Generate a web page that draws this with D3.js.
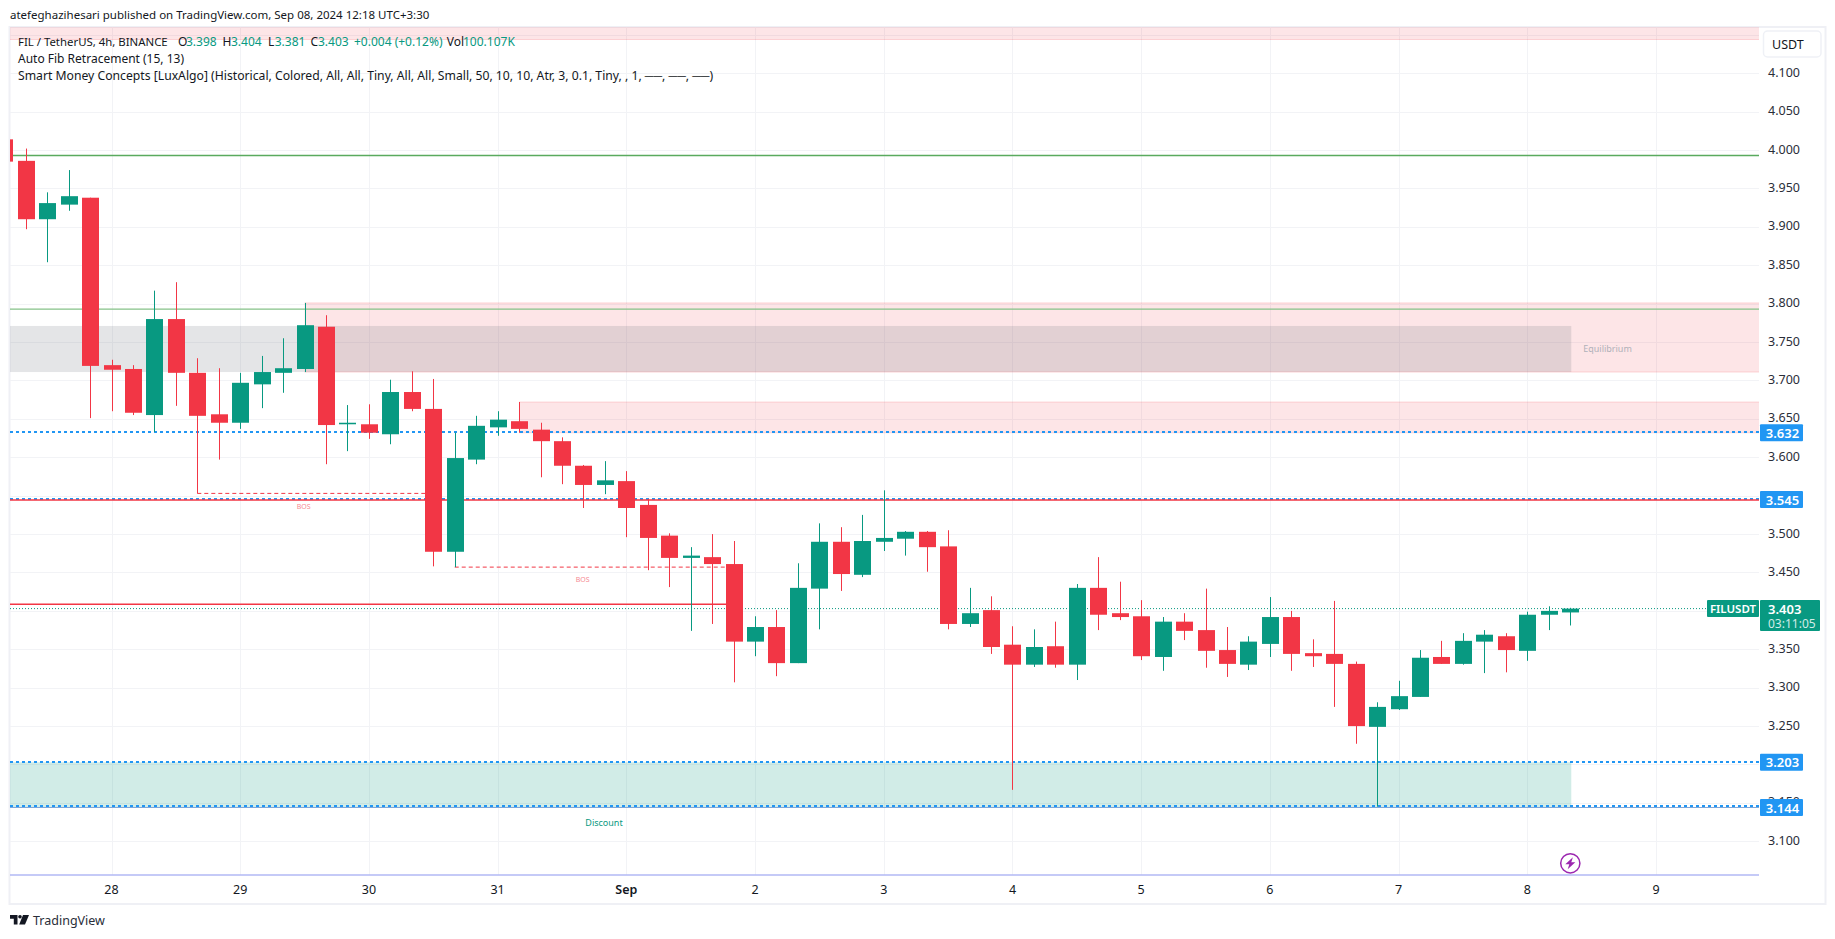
<!DOCTYPE html>
<html>
<head>
<meta charset="utf-8">
<script src="https://cdn.jsdelivr.net/npm/d3@7/dist/d3.min.js"></script>
<style>
  html, body { margin: 0; padding: 0; background: #fff; overflow: hidden; }
  text { font-family: "Noto Sans", "Open Sans", sans-serif; white-space: pre; }
</style>
</head>
<body>
<svg class="Chart"></svg>
<script>
/* candles, one every 4h, first one is cut by the left edge */
const opens = [4.014,3.986,3.910,3.929,3.938,3.720,3.715,3.655,3.780,3.710,3.656,3.645,3.695,3.710,3.715,3.770,3.643,3.643,3.630,3.685,3.663,3.477,3.597,3.639,3.647,3.636,3.621,3.589,3.564,3.569,3.538,3.498,3.469,3.470,3.461,3.360,3.379,3.332,3.429,3.490,3.447,3.490,3.494,3.503,3.484,3.383,3.401,3.356,3.330,3.354,3.330,3.430,3.397,3.393,3.340,3.386,3.375,3.349,3.330,3.357,3.392,3.345,3.344,3.331,3.249,3.272,3.288,3.340,3.331,3.360,3.367,3.348,3.395,3.398];
const highs = [4.014,4.002,3.945,3.974,3.938,3.727,3.720,3.817,3.828,3.729,3.716,3.710,3.732,3.755,3.801,3.785,3.668,3.669,3.701,3.712,3.702,3.632,3.654,3.660,3.672,3.645,3.626,3.590,3.595,3.582,3.546,3.501,3.483,3.500,3.491,3.393,3.401,3.462,3.514,3.509,3.525,3.557,3.504,3.504,3.505,3.430,3.419,3.380,3.376,3.386,3.435,3.470,3.438,3.414,3.392,3.397,3.429,3.379,3.367,3.418,3.400,3.363,3.413,3.334,3.281,3.309,3.349,3.361,3.371,3.375,3.371,3.399,3.406,3.404];
const lows = [3.985,3.897,3.854,3.921,3.651,3.660,3.655,3.633,3.667,3.553,3.597,3.637,3.664,3.684,3.711,3.591,3.608,3.624,3.617,3.660,3.458,3.457,3.591,3.628,3.632,3.574,3.565,3.534,3.552,3.496,3.453,3.431,3.374,3.383,3.307,3.341,3.315,3.332,3.376,3.426,3.444,3.478,3.472,3.451,3.376,3.379,3.344,3.167,3.327,3.326,3.310,3.375,3.388,3.336,3.322,3.362,3.326,3.314,3.323,3.340,3.322,3.327,3.275,3.227,3.145,3.271,3.288,3.331,3.330,3.319,3.320,3.335,3.375,3.381];
const closes = [3.985,3.910,3.931,3.940,3.719,3.714,3.658,3.780,3.710,3.654,3.645,3.697,3.711,3.716,3.772,3.642,3.645,3.632,3.685,3.663,3.477,3.599,3.641,3.649,3.637,3.621,3.589,3.564,3.570,3.534,3.495,3.469,3.472,3.461,3.360,3.379,3.332,3.430,3.490,3.448,3.491,3.495,3.503,3.483,3.383,3.397,3.353,3.330,3.353,3.330,3.430,3.395,3.392,3.341,3.386,3.374,3.348,3.331,3.360,3.392,3.344,3.341,3.331,3.250,3.275,3.289,3.339,3.331,3.361,3.369,3.349,3.395,3.400,3.403];

const priceTicks = [4.15,4.1,4.05,4.0,3.95,3.9,3.85,3.8,3.75,3.7,3.65,3.6,3.55,3.5,3.45,3.4,3.35,3.3,3.25,3.2,3.15,3.1];
const priceLabels = [4.1,4.05,4.0,3.95,3.9,3.85,3.8,3.75,3.7,3.65,3.6,3.5,3.45,3.35,3.3,3.25,3.15,3.1];
const dayLabels = ['28','29','30','31','Sep','2','3','4','5','6','7','8','9'];
const dayCandle = [5,11,17,23,29,35,41,47,53,59,65,71,77];   // candle number where each day starts
const priceTags = [3.632,3.545,3.203,3.144];
const dotLevels = [3.633,3.546,3.2033,3.1455];
const lastPrice = 3.403;

const pageW = 1835, pageH = 939;
const plotL = 10, plotR = 1759, plotT = 27, plotB = 875;

const svg = d3.select('.Chart').attr('width', pageW).attr('height', pageH);

const x = d3.scaleLinear().domain([5, 71]).range([111.5, 1527.3]);
const y = d3.scaleLinear().domain([4.1, 3.1]).range([73.3, 841.3]);

const defs = svg.append('defs');
defs.append('clipPath').attr('id', 'plot').append('rect')
  .attr('x', plotL).attr('y', plotT).attr('width', plotR - plotL).attr('height', plotB - plotT);

/* Frame */
svg.append('rect')
  .attr('x', 9.5).attr('y', 27).attr('width', 1816).attr('height', 877)
  .attr('fill', '#fff').attr('stroke', '#eff0f5').attr('stroke-width', 2);

const plot = svg.append('g').attr('clip-path', 'url(#plot)');

/* Grid */
plot.append('g').selectAll('line').data(priceTicks).enter().append('line')
  .attr('x1', plotL).attr('x2', plotR)
  .attr('y1', d => Math.round(y(d)) + 0.5).attr('y2', d => Math.round(y(d)) + 0.5)
  .attr('stroke', '#f2f3f6');
plot.append('g').selectAll('line').data(dayCandle).enter().append('line')
  .attr('x1', d => Math.round(x(d)) + 0.5).attr('x2', d => Math.round(x(d)) + 0.5)
  .attr('y1', plotT).attr('y2', plotB)
  .attr('stroke', '#f2f3f6');

/* Zones */
const zoneStart = [-2, 14, 24, -2, -2];
const zoneEnd = [null, null, null, 73.05, 73.05];
const zoneTop = [4.2, 3.801, 3.672, 3.771, 3.203];
const zoneBottom = [4.144, 3.711, 3.632, 3.711, 3.144];
const zoneFill = ['rgba(242,54,69,0.13)','rgba(242,54,69,0.13)','rgba(242,54,69,0.13)','rgba(120,123,134,0.2)','rgba(8,153,129,0.19)'];

plot.append('g').selectAll('rect').data(d3.range(zoneTop.length)).enter().append('rect')
  .attr('x', i => zoneStart[i] < 0 ? plotL : x(zoneStart[i]))
  .attr('width', i => (zoneEnd[i] === null ? plotR : x(zoneEnd[i])) - (zoneStart[i] < 0 ? plotL : x(zoneStart[i])))
  .attr('y', i => y(zoneTop[i]))
  .attr('height', i => y(zoneBottom[i]) - y(zoneTop[i]))
  .attr('fill', i => zoneFill[i]);

const edgeLevels = [zoneBottom[0], zoneTop[1], zoneBottom[1], zoneTop[2], zoneBottom[2]];
const edgeStart = [0, 1, 1, 2, 2];
plot.append('g').selectAll('line').data(edgeLevels).enter().append('line')
  .attr('x1', (d, k) => zoneStart[edgeStart[k]] < 0 ? plotL : x(zoneStart[edgeStart[k]]))
  .attr('x2', plotR)
  .attr('y1', d => y(d)).attr('y2', d => y(d))
  .attr('stroke', 'rgba(242,54,69,0.18)');

/* BOS dashes */
const bosFrom = [9, 21];
const bosTo = [20, 34];
const bosPrice = [3.553, 3.457];
plot.append('g').selectAll('line').data(bosPrice).enter().append('line')
  .attr('x1', (d, i) => x(bosFrom[i])).attr('x2', (d, i) => x(bosTo[i]))
  .attr('y1', d => y(d)).attr('y2', d => y(d))
  .attr('stroke', '#f23645').attr('stroke-dasharray', '4 3');

/* Dotted price lines */
plot.append('g').selectAll('line').data(dotLevels).enter().append('line')
  .attr('x1', plotL).attr('x2', plotR)
  .attr('y1', d => Math.round(y(d))).attr('y2', d => Math.round(y(d)))
  .attr('stroke', '#2196f3').attr('stroke-width', 2).attr('stroke-dasharray', '3 3')
  .attr('shape-rendering', 'crispEdges');
plot.append('line')
  .attr('x1', plotL).attr('x2', plotR)
  .attr('y1', y(lastPrice)).attr('y2', y(lastPrice))
  .attr('stroke', '#089981').attr('stroke-dasharray', '1 2');

/* Fib lines and swing lines */
const lineLevels = [3.993, 3.793, 3.5445, 3.4086, 3.144];
const lineEnds = [null, null, null, 34, null];
const lineColors = ['#5aaa5e', '#85c288', '#f23645', '#f23645', '#7fa6d8'];
const lineWidths = [1.4, 1.4, 1.5, 1.4, 1];
plot.append('g').selectAll('line').data(lineLevels).enter().append('line')
  .attr('x1', plotL)
  .attr('x2', (d, i) => lineEnds[i] === null ? plotR : x(lineEnds[i]))
  .attr('y1', d => y(d)).attr('y2', d => y(d))
  .attr('stroke', (d, i) => lineColors[i])
  .attr('stroke-width', (d, i) => lineWidths[i]);

/* Candles */
const candles = d3.range(opens.length);
const col = i => closes[i] >= opens[i] ? '#089981' : '#f23645';
const bodyW = 17;
const cx = i => Math.round(x(i)) + 0.5;
plot.append('g').selectAll('line').data(candles).enter().append('line')
  .attr('x1', cx).attr('x2', cx)
  .attr('y1', i => y(highs[i])).attr('y2', i => y(lows[i]))
  .attr('stroke', col);
plot.append('g').selectAll('rect').data(candles).enter().append('rect')
  .attr('x', i => cx(i) - bodyW / 2)
  .attr('width', bodyW)
  .attr('y', i => y(Math.max(opens[i], closes[i])))
  .attr('height', i => Math.max(1, y(Math.min(opens[i], closes[i])) - y(Math.max(opens[i], closes[i]))))
  .attr('fill', col);

/* Small labels on the plot */
const noteText = ['BOS', 'BOS', 'Equilibrium', 'Discount'];
const noteCandle = [13.96, 26.96, 74.74, 27.96];
const notePrice = [3.5365, 3.4405, 3.7414, 3.124];
const noteColor = ['#f68a94', '#f68a94', '#b0b1b9', '#089981'];
const noteSize = [7, 7, 9, 9];
plot.append('g').selectAll('text').data(noteText).enter().append('text')
  .attr('x', (d, i) => x(noteCandle[i])).attr('y', (d, i) => y(notePrice[i]))
  .attr('text-anchor', 'middle').attr('dominant-baseline', 'central')
  .attr('fill', (d, i) => noteColor[i]).attr('font-size', (d, i) => noteSize[i])
  .text(d => d);

/* Bottom line of the plot and the lightning mark */
svg.append('line').attr('x1', plotL).attr('x2', plotR).attr('y1', plotB).attr('y2', plotB)
  .attr('stroke', '#b2b9f5').attr('stroke-width', 1.5);
svg.append('circle').attr('cx', 1570.3).attr('cy', 863.3).attr('r', 9.6)
  .attr('fill', '#fff').attr('stroke', '#9c27b0').attr('stroke-width', 1.5);
svg.append('path').attr('transform', 'translate(1570.3,863.3)')
  .attr('d', 'M2.6,-6 L-5,1 L-1,1 L-2.6,6 L5,-1 L1,-1 Z')
  .attr('fill', '#9c27b0');

/* Price axis */
const priceAxis = svg.append('g').attr('transform', `translate(${plotR},-1)`)
  .call(d3.axisRight(y).tickValues(priceLabels).tickSize(0).tickPadding(9).tickFormat(d3.format('.3f')));
priceAxis.select('.domain').remove();
priceAxis.selectAll('text').attr('font-size', 12.5).attr('fill', '#2a2e39').attr('font-family', '"Noto Sans"');

svg.append('rect').attr('x', 1763.5).attr('y', 31).attr('width', 57.5).attr('height', 26).attr('rx', 4)
  .attr('fill', '#fff').attr('stroke', '#eff1f6').attr('stroke-width', 1.5);
svg.append('text').attr('x', 1772).attr('y', 49).attr('font-size', 12.5).attr('fill', '#131722').text('USDT');

/* Time axis */
svg.append('g').selectAll('text').data(dayLabels).enter().append('text')
  .attr('x', (d, i) => x(dayCandle[i]))
  .attr('y', 893.5)
  .attr('text-anchor', 'middle')
  .attr('font-size', 12.5)
  .attr('font-weight', d => d === 'Sep' ? 600 : 400)
  .attr('fill', '#131722')
  .text(d => d);

/* Price tags */
const tags = svg.append('g').selectAll('g').data(priceTags).enter().append('g');
tags.append('rect').attr('x', 1760).attr('width', 43).attr('height', 17).attr('rx', 1)
  .attr('y', d => y(d) - 8.5).attr('fill', '#2196f3');
tags.append('text').attr('x', 1782.5).attr('y', d => y(d) + 5).attr('text-anchor', 'middle')
  .attr('font-size', 13).attr('font-weight', 600).attr('fill', '#fff').text(d => d3.format('.3f')(d));

const yLast = y(lastPrice);
svg.append('rect').attr('x', 1760).attr('y', yLast - 8.5).attr('width', 60).attr('height', 31).attr('rx', 1).attr('fill', '#089981');
svg.append('rect').attr('x', 1707).attr('y', yLast - 8.5).attr('width', 52).attr('height', 17).attr('rx', 1).attr('fill', '#089981');
svg.append('text').attr('x', 1733).attr('y', yLast + 4.5).attr('text-anchor', 'middle').attr('font-size', 11.5).attr('font-weight', 600).attr('fill', '#fff').text('FILUSDT');
svg.append('text').attr('x', 1768).attr('y', yLast + 5).attr('font-size', 13).attr('font-weight', 600).attr('fill', '#fff').text('3.403');
svg.append('text').attr('x', 1768).attr('y', yLast + 19).attr('font-size', 12).attr('fill', '#d2ece7').text('03:11:05');

/* Header and legend */
svg.append('text').attr('x', 10).attr('y', 19).attr('font-size', 11.5).attr('fill', '#131722')
  .text('atefeghazihesari published on TradingView.com, Sep 08, 2024 12:18 UTC+3:30');

const legendText = ['FIL / TetherUS, 4h, BINANCE', 'O', '3.398', 'H', '3.404', 'L', '3.381', 'C', '3.403', '+0.004 (+0.12%)', 'Vol', '100.107K'];
const legendX = [18, 178, 186, 222.6, 231, 268, 274.7, 310.4, 318, 354, 446.8, 463];
const legendGreen = [0, 0, 1, 0, 1, 0, 1, 0, 1, 1, 0, 1];
svg.append('g').selectAll('text').data(legendText).enter().append('text')
  .attr('x', (d, i) => legendX[i]).attr('y', 46).attr('font-size', (d, i) => i === 0 ? 11.4 : 12)
  .attr('fill', (d, i) => legendGreen[i] ? '#089981' : '#131722')
  .text(d => d);
svg.append('text').attr('x', 18).attr('y', 63).attr('font-size', 12).attr('fill', '#131722').text('Auto Fib Retracement (15, 13)');
svg.append('text').attr('x', 18).attr('y', 80).attr('font-size', 12.2).attr('fill', '#131722')
  .text('Smart Money Concepts [LuxAlgo] (Historical, Colored, All, All, Tiny, All, All, Small, 50, 10, 10, Atr, 3, 0.1, Tiny, , 1, ──, ──, ──)');

/* Footer logo */
const logo = svg.append('g').attr('transform', 'translate(10,915)');
logo.append('path').attr('d', 'M0,0 H7.5 V9.5 H3.8 V3.7 H0 Z').attr('fill', '#131722');
logo.append('circle').attr('cx', 10).attr('cy', 1.8).attr('r', 1.8).attr('fill', '#131722');
logo.append('path').attr('d', 'M13,0 H19 L15,9.5 H9.2 Z').attr('fill', '#131722');
svg.append('text').attr('x', 33).attr('y', 925).attr('font-size', 12.5).attr('fill', '#2a2e39').text('TradingView');
</script>
</body>
</html>
